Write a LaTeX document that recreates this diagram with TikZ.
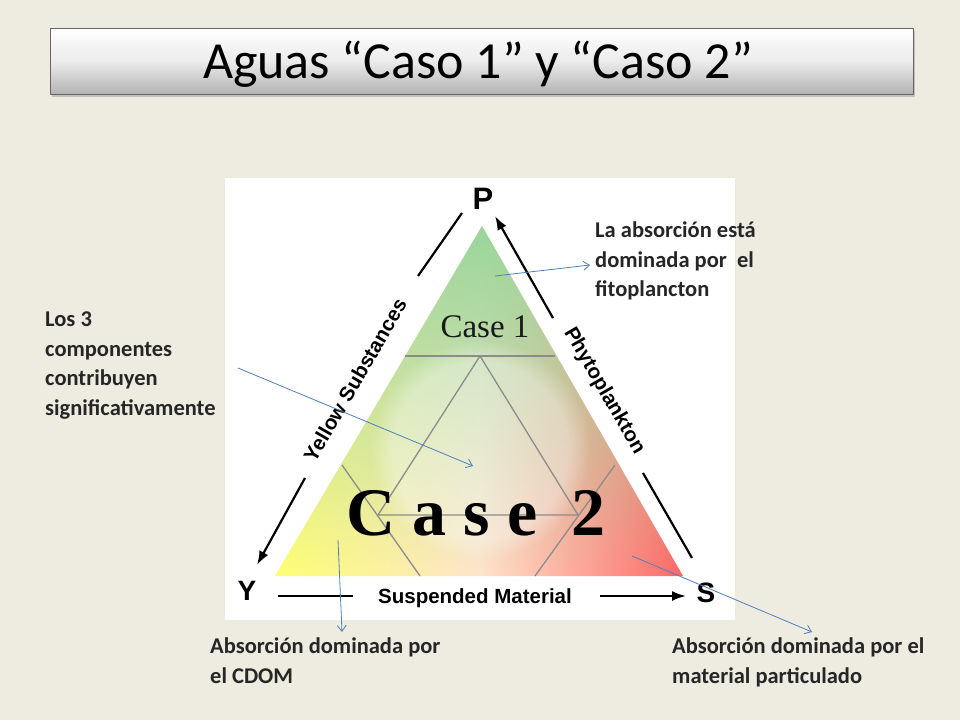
\documentclass[tikz,border=0pt]{standalone}
\usepackage{fontspec}
\setmainfont{Carlito}
\newfontfamily\arialf{Liberation Sans}
\newfontfamily\timesf{Liberation Serif}
\usetikzlibrary{fadings,shadows,arrows.meta}
\definecolor{bg}{RGB}{238,236,225}
\definecolor{callout}{RGB}{79,129,189}
\tikzset{
  lbl/.style={font=\bfseries\fontsize{22.5}{29.5}\selectfont, align=left, anchor=north west, inner sep=0pt, text=black!85},
  call/.style={draw=callout, line width=0.8pt, -{Straight Barb[length=6pt,width=9pt]}},
  axis/.style={line width=2.2pt, black},
  axarrow/.style={axis, -{Latex[length=14pt,width=10pt]}},
  grid/.style={draw=black!45, line width=1.3pt},
  axlbl/.style={font=\arialf\bfseries\fontsize{20.5}{20.5}\selectfont, inner sep=0pt}
}
\begin{document}
\begin{tikzpicture}[x=1pt,y=-1pt]
\fill[bg] (0,0) rectangle (960,720);
\useasboundingbox (0,0) rectangle (960,720);
% title
\node[draw=black!60, line width=0.8pt, minimum width=863pt, minimum height=66pt, top color=white, bottom color=black!30, middle color=black!8, drop shadow={opacity=0.4}, inner sep=0pt] (title) at (481.5,61.5) {};
\node[font=\fontsize{52}{52}\selectfont, inner sep=0pt] (tt) at (478,64) {Aguas “Caso 1” y “Caso 2”};
% image area
\fill[white] (225,178) rectangle (735,620);
\coordinate (P) at (482,226);
\coordinate (Yc) at (275,576);
\coordinate (Sc) at (683,576);
\shade[left color=yellow!55, right color=red!60, middle color=orange!20] (P) -- (Yc) -- (Sc) -- cycle;
\fill[green!60!black!40, path fading=south] (P) -- (Yc) -- (Sc) -- cycle;
\fill[white, opacity=0.35, path fading=circle with fuzzy edge 20 percent] (480,450) circle (110);
% grid lines
\draw[grid] (405,356) -- (555,356);
\draw[grid] (378,515) -- (480,356) -- (578,515) -- cycle;
\draw[grid] (342,465) -- (420,576);
\draw[grid] (615,465) -- (535,576);
\node[font=\timesf\fontsize{33}{33}\selectfont, text=black!90, inner sep=0pt] (c1) at (485,327) {Case 1};
\node[font=\timesf\bfseries\fontsize{68}{68}\selectfont, text=black, inner sep=0pt] (c2) at (476,513) {C a s e\ \ 2};
% axes
\node[font=\arialf\bfseries\fontsize{31}{31}\selectfont, inner sep=0pt] (pl) at (483,199) {P};
\node[font=\arialf\bfseries\fontsize{28}{28}\selectfont, inner sep=0pt] (yl) at (247,591) {Y};
\node[font=\arialf\bfseries\fontsize{28}{28}\selectfont, inner sep=0pt] (sl) at (706,593) {S};
\coordinate (a1) at (462,213); \coordinate (a2) at (418,276);
\coordinate (a3) at (305,478); \coordinate (a4) at (257,565);
\coordinate (b1) at (553,318); \coordinate (b2) at (495,216);
\coordinate (b3) at (643,473); \coordinate (b4) at (692,558);
\coordinate (d1) at (278,596); \coordinate (d2) at (353,596);
\coordinate (d3) at (600,596); \coordinate (d4) at (686,596);
\draw[axis] (a1) -- (a2);
\draw[axarrow] (a3) -- (a4);
\draw[axarrow] (b1) -- (b2);
\draw[axis] (b3) -- (b4);
\draw[axis] (d1) -- (d2);
\draw[axarrow] (d3) -- (d4);
\node[axlbl, rotate=60] (ys) at (355,380) {Yellow Substances};
\node[axlbl, rotate=-60] (ph) at (604,391) {Phytoplankton};
\node[axlbl] (sm) at (475,598) {Suspended Material};
% callouts
\node[lbl] (t1) at (595,222) {La absorción está\\dominada por\ \ el\\fitoplancton};
\node[lbl] (t2) at (45,312) {Los 3\\componentes\\contribuyen\\significativamente};
\node[lbl] (t3) at (210,638) {Absorción dominada por\\el CDOM};
\node[lbl] (t4) at (672,638) {Absorción dominada por el\\material particulado};
\coordinate (e1s) at (495,276); \coordinate (e1e) at (590,265);
\coordinate (e2s) at (238,368); \coordinate (e2e) at (473,466);
\coordinate (e3s) at (338,540); \coordinate (e3e) at (342,632);
\coordinate (e4s) at (632,556); \coordinate (e4e) at (812,632);
\draw[call] (e1s) -- (e1e);
\draw[call] (e2s) -- (e2e);
\draw[call] (e3s) -- (e3e);
\draw[call] (e4s) -- (e4e);
\end{tikzpicture}
\end{document}
